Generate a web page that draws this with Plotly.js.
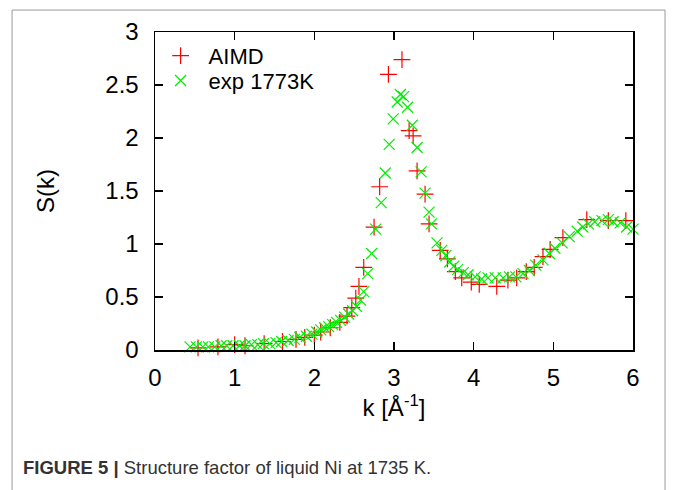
<!DOCTYPE html>
<html>
<head>
<meta charset="utf-8">
<script src="https://cdn.plot.ly/plotly-3.0.1.min.js"></script>
<style>html,body{margin:0;padding:0;background:#fff;}#chart{width:674px;height:490px;}</style>
</head>
<body>
<div id="chart"></div>
<script>
const aimdK = [0.54,0.79,1.0,1.13,1.37,1.6,1.77,1.88,2.0,2.08,2.2,2.32,2.41,2.47,2.52,2.56,2.62,2.75,2.82,2.93,3.10,3.19,3.24,3.29,3.39,3.44,3.58,3.67,3.77,3.85,3.97,4.07,4.29,4.43,4.54,4.66,4.76,4.87,4.96,5.12,5.42,5.69,5.91];
const aimdS = [0.02,0.03,0.05,0.04,0.06,0.08,0.10,0.12,0.14,0.17,0.21,0.26,0.32,0.40,0.49,0.60,0.78,1.16,1.54,2.60,2.74,2.07,2.02,1.69,1.47,1.19,0.94,0.86,0.74,0.68,0.64,0.62,0.60,0.66,0.68,0.74,0.78,0.88,0.95,1.06,1.23,1.22,1.22];
const expK = [0.44,0.52,0.60,0.67,0.75,0.83,0.90,0.98,1.06,1.13,1.21,1.29,1.36,1.44,1.52,1.59,1.67,1.75,1.82,1.90,1.97,2.03,2.08,2.13,2.18,2.23,2.28,2.33,2.38,2.43,2.48,2.53,2.58,2.62,2.67,2.72,2.77,2.84,2.89,2.94,2.99,3.04,3.08,3.12,3.17,3.23,3.29,3.34,3.39,3.44,3.47,3.54,3.60,3.65,3.70,3.75,3.80,3.87,3.93,4.02,4.10,4.18,4.27,4.37,4.45,4.53,4.62,4.70,4.78,4.87,4.95,5.02,5.11,5.20,5.30,5.37,5.44,5.52,5.61,5.69,5.75,5.84,5.92,6.00];
const expS = [0.03,0.03,0.03,0.03,0.03,0.04,0.04,0.04,0.04,0.04,0.05,0.05,0.06,0.06,0.07,0.08,0.09,0.10,0.12,0.13,0.15,0.17,0.19,0.21,0.22,0.24,0.26,0.28,0.31,0.34,0.37,0.41,0.47,0.55,0.72,0.91,1.14,1.39,1.67,1.94,2.18,2.34,2.41,2.39,2.29,2.12,1.91,1.68,1.48,1.30,1.19,1.01,0.94,0.89,0.83,0.79,0.76,0.73,0.71,0.69,0.67,0.68,0.68,0.68,0.69,0.69,0.72,0.75,0.80,0.85,0.91,0.96,1.01,1.07,1.12,1.16,1.19,1.21,1.22,1.23,1.21,1.20,1.16,1.14];
const seriesNames = ["AIMD", "exp 1773K"];
const xTitle = "k [Å<sup>-1</sup>]";
const yTitle = "S(k)";
const caption = "<b>FIGURE 5 |</b> Structure factor of liquid Ni at 1735 K.";

const font = "Liberation Sans, Arial, sans-serif";
const traces = [
  {x: aimdK, y: aimdS, name: seriesNames[0], type: "scatter", mode: "markers", cliponaxis: false, legend: "legend",
   marker: {symbol: "cross-thin-open", size: 12, color: "#ff0000", line: {color: "#ff0000", width: 1.2}}},
  {x: expK, y: expS, name: seriesNames[1], type: "scatter", mode: "markers", cliponaxis: false, legend: "legend2",
   marker: {symbol: "x-thin-open", size: 11, color: "#00ee00", line: {color: "#00ee00", width: 1.2}}}
];
const axisCommon = {showline: true, linecolor: "#000", linewidth: 1.5, mirror: "ticks", ticks: "inside",
  ticklen: 8, tickwidth: 1.5, tickcolor: "#000", showgrid: false, zeroline: false,
  tickfont: {family: font, size: 24, color: "#000"}};
const legendCommon = {xanchor: "left", yanchor: "middle", bgcolor: "rgba(0,0,0,0)",
  font: {family: font, size: 22, color: "#000"}, itemwidth: 46, tracegroupgap: 0};
const layout = {
  width: 674, height: 490,
  margin: {l: 155, r: 41, t: 32, b: 140},
  paper_bgcolor: "#fff", plot_bgcolor: "#fff",
  font: {family: font, color: "#000"},
  showlegend: true,
  legend: Object.assign({}, legendCommon, {x: -0.005, y: 0.925}),
  legend2: Object.assign({}, legendCommon, {x: -0.005, y: 0.847}),
  xaxis: Object.assign({}, axisCommon, {range: [0, 6], dtick: 1, tick0: 0, ticklabelstandoff: 6,
    title: {text: xTitle, font: {family: font, size: 24}, standoff: 4}}),
  yaxis: Object.assign({}, axisCommon, {range: [0, 3], dtick: 0.5, tick0: 0, ticklabelstandoff: 10,
    title: {text: yTitle, font: {family: font, size: 24}, standoff: 44}}),
  annotations: [{xref: "paper", yref: "paper", x: -0.28, y: -0.368, xanchor: "left", yanchor: "middle",
    showarrow: false, text: caption, font: {family: font, size: 18.5, color: "#333"}}],
  shapes: [
    {type: "line", xref: "paper", yref: "paper", x0: -0.299, x1: 1.067, y0: 1.069, y1: 1.069, line: {color: "#999", width: 1}},
    {type: "line", xref: "paper", yref: "paper", x0: -0.299, x1: -0.299, y0: 1.069, y1: -0.47, line: {color: "#999", width: 1}},
    {type: "line", xref: "paper", yref: "paper", x0: 1.067, x1: 1.067, y0: 1.069, y1: -0.47, line: {color: "#999", width: 1}}
  ]
};
Plotly.newPlot("chart", traces, layout, {displayModeBar: false, staticPlot: true});
</script>
</body>
</html>
